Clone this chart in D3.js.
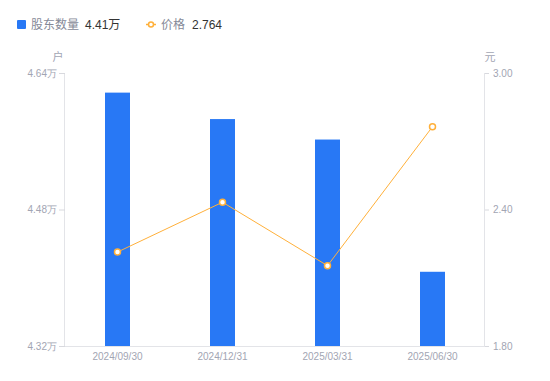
<!DOCTYPE html>
<html>
<head>
<meta charset="utf-8">
<script src="https://cdnjs.cloudflare.com/ajax/libs/d3/7.8.5/d3.min.js"></script>
<style>
  html, body { margin: 0; padding: 0; background: #fff; }
  svg { display: block; font-family: "Liberation Sans", Arial, "Noto Sans CJK SC", sans-serif; }
</style>
</head>
<body>
<div id="chart"></div>
<script>
// data
const dates = ['2024/09/30', '2024/12/31', '2025/03/31', '2025/06/30'];
const holders = [4.617, 4.586, 4.562, 4.407];   // 万户
const prices = [2.213, 2.432, 2.153, 2.764];     // 元
const leftTicks = [4.32, 4.48, 4.64];
const rightTicks = [1.80, 2.40, 3.00];

const width = 550, height = 381;
const m = { top: 73, right: 65, bottom: 35, left: 65 };
const blue = '#2878f5', orange = '#ffb03a', grey = '#a2a5b3';

const svg = d3.select('#chart').append('svg')
  .attr('width', width)
  .attr('height', height);

const x = d3.scaleBand()
  .domain(dates)
  .range([m.left, width - m.right]);

const yL = d3.scaleLinear()
  .domain([4.32, 4.64])
  .range([height - m.bottom, m.top]);

const yR = d3.scaleLinear()
  .domain([1.80, 3.00])
  .range([height - m.bottom, m.top]);

// axes
const axL = svg.append('g')
  .attr('transform', `translate(${m.left},0)`)
  .call(d3.axisLeft(yL).tickValues(leftTicks).tickSize(6).tickPadding(2).tickFormat(d => d.toFixed(2) + '万'));

const axR = svg.append('g')
  .attr('transform', `translate(${width - m.right},0)`)
  .call(d3.axisRight(yR).tickValues(rightTicks).tickSize(4).tickPadding(4).tickFormat(d => d.toFixed(2)));

const axB = svg.append('g')
  .attr('transform', `translate(0,${height - m.bottom})`)
  .call(d3.axisBottom(x).tickSize(0).tickPadding(7));

[axL, axR, axB].forEach(g => {
  g.select('.domain').attr('stroke', '#e3e4e8');
  g.selectAll('.tick line').attr('stroke', '#d8d9de');
  g.selectAll('.tick text').attr('fill', grey).attr('font-size', 10);
});
axL.select('.domain').attr('d', `M-0.5,${m.top}V${height - m.bottom}`);
axR.select('.domain').attr('d', `M-0.5,${m.top}V${height - m.bottom}`);
axB.select('.domain').attr('d', `M${m.left},0.5H${width - m.right}`);

// unit labels
svg.append('text').attr('x', 58).attr('y', 61).attr('text-anchor', 'middle')
  .attr('font-size', 11).attr('fill', grey).text('户');
svg.append('text').attr('x', 490).attr('y', 61).attr('text-anchor', 'middle')
  .attr('font-size', 11).attr('fill', grey).text('元');

// bars
const bw = 25;
svg.selectAll('.bar')
  .data(holders)
  .enter()
  .append('rect')
  .attr('x', (d, i) => x(dates[i]) + x.bandwidth() / 2 - bw / 2)
  .attr('y', d => yL(d))
  .attr('width', bw)
  .attr('height', d => yL(4.32) - yL(d))
  .attr('fill', blue);

// price line
const line = d3.line()
  .x((d, i) => x(dates[i]) + x.bandwidth() / 2)
  .y(d => yR(d));

svg.append('path')
  .datum(prices)
  .attr('d', line)
  .attr('fill', 'none')
  .attr('stroke', orange)
  .attr('stroke-width', 1);

svg.selectAll('.pt')
  .data(prices)
  .enter()
  .append('circle')
  .attr('cx', (d, i) => x(dates[i]) + x.bandwidth() / 2)
  .attr('cy', d => yR(d))
  .attr('r', 3)
  .attr('fill', '#fff')
  .attr('stroke', orange)
  .attr('stroke-width', 1.5);

// legend
const lg = svg.append('g');
lg.append('rect').attr('x', 17).attr('y', 20).attr('width', 9).attr('height', 9)
  .attr('rx', 1).attr('fill', blue);
lg.append('text').attr('x', 31).attr('y', 29).attr('font-size', 12).attr('fill', '#858997').text('股东数量');
lg.append('text').attr('x', 85).attr('y', 29).attr('font-size', 12).attr('fill', '#333').text('4.41万');

lg.append('line').attr('x1', 146).attr('x2', 156).attr('y1', 24.5).attr('y2', 24.5)
  .attr('stroke', orange).attr('stroke-width', 1.5);
lg.append('circle').attr('cx', 151).attr('cy', 24.5).attr('r', 2.5)
  .attr('fill', '#fff').attr('stroke', orange).attr('stroke-width', 1.5);
lg.append('text').attr('x', 161).attr('y', 29).attr('font-size', 12).attr('fill', '#858997').text('价格');
lg.append('text').attr('x', 192).attr('y', 29).attr('font-size', 12).attr('fill', '#333').text('2.764');
</script>
</body>
</html>
